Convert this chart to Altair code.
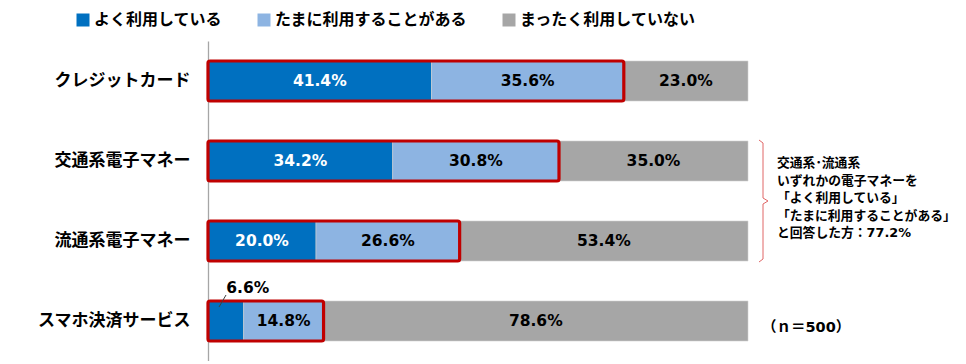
import altair as alt
import pandas as pd

categories = ["クレジットカード", "交通系電子マネー", "流通系電子マネー", "スマホ決済サービス"]
series = ["よく利用している", "たまに利用することがある", "まったく利用していない"]
often = [41.4, 34.2, 20.0, 6.6]
sometimes = [35.6, 30.8, 26.6, 14.8]
never = [23.0, 35.0, 53.4, 78.6]
colors = ["#0070c0", "#8db4e2", "#a6a6a6"]
text_colors = ["#ffffff", "#000000", "#000000"]
note_lines = ["交通系･流通系", "いずれかの電子マネーを", "「よく利用している」", "「たまに利用することがある」", "と回答した方：77.2%"]
n_note = "（ｎ＝500）"

FONT = "DejaVu Sans, Noto Sans CJK JP"
JP = "Noto Sans CJK JP"

rows = []
for ci, cat in enumerate(categories):
    start = 0.0
    for si, (s, vals) in enumerate(zip(series, [often, sometimes, never])):
        v = vals[ci]
        rows.append({
            "category": cat, "series": s, "order": si, "value": v,
            "start": start, "end": start + v, "mid": start + v / 2,
            "label": f"{v:.1f}%", "tcolor": text_colors[si],
            "inside": v >= 10,
        })
        start += v
df = pd.DataFrame(rows)

box_df = pd.DataFrame({
    "category": categories,
    "zero": [0.0] * len(categories),
    "end": [a + b for a, b in zip(often, sometimes)],
})

small = df[~df["inside"]].copy()

yenc = alt.Y("category:N", sort=categories, title=None,
             scale=alt.Scale(paddingInner=0.5, paddingOuter=0.25),
             axis=alt.Axis(labelFont=JP, labelFontSize=17, labelFontWeight="bold",
                           labelColor="#000000", labelPadding=18, ticks=False, grid=False,
                           domainColor="#a6a6a6", domainWidth=1.3, labelLimit=300))
xscale = alt.Scale(domain=[0, 100], nice=False)

bars = alt.Chart(df).mark_bar(stroke="#d0d0d0", strokeWidth=0.6).encode(
    y=yenc,
    x=alt.X("start:Q", scale=xscale, axis=None),
    x2="end:Q",
    color=alt.Color("series:N", sort=series,
                    scale=alt.Scale(domain=series, range=colors),
                    legend=alt.Legend(title=None, orient="none", direction="horizontal",
                                      legendX=-133, legendY=-29,
                                      symbolType="square", symbolSize=169,
                                      symbolStrokeWidth=0, symbolOpacity=1,
                                      labelFont=JP, labelFontSize=16, labelFontWeight="bold",
                                      labelColor="#000000", labelLimit=400, labelOffset=3,
                                      columnPadding=33)),
)

boxes = alt.Chart(box_df).mark_bar(fill=None, fillOpacity=0, stroke="#c00000",
                                   strokeWidth=3.2, cornerRadius=2).encode(
    y=yenc,
    x=alt.X("zero:Q", scale=xscale, axis=None),
    x2="end:Q",
)

labels = alt.Chart(df).transform_filter("datum.inside").mark_text(
    font=FONT, fontSize=15.5, fontWeight="bold", baseline="middle", align="center"
).encode(
    y=yenc,
    x=alt.X("mid:Q", scale=xscale, axis=None),
    text="label:N",
    color=alt.Color("tcolor:N", scale=None),
)

small_label = alt.Chart(small).mark_text(
    font=FONT, fontSize=15.5, fontWeight="bold", baseline="middle", align="center",
    dx=22, dy=-33, color="#000000"
).encode(
    y=yenc,
    x=alt.X("mid:Q", scale=xscale, axis=None),
    text="label:N",
)

# leader line for the small label
lead_df = pd.DataFrame({"px": [219 - 208, 226 - 208], "py": [307 - 41, 295 - 41]})
leader = alt.Chart(lead_df).mark_line(color="#404040", strokeWidth=1).encode(
    x=alt.X("px:Q", scale=None, axis=None), y=alt.Y("py:Q", scale=None, axis=None)
)

br_df = pd.DataFrame({
    "px": [759, 763, 763, 768, 763, 763, 759],
    "py": [140, 143, 198, 201, 204, 259, 262],
})
br_df["px"] = br_df["px"] - 208
br_df["py"] = br_df["py"] - 41
br_df["i"] = range(len(br_df))
bracket = alt.Chart(br_df).mark_line(color="#e06666", strokeWidth=1).encode(
    x=alt.X("px:Q", scale=None, axis=None), y=alt.Y("py:Q", scale=None, axis=None), order="i:Q"
)

note = alt.Chart(pd.DataFrame({"a": [0]})).mark_text(
    text=note_lines, font=FONT, fontSize=12.8, fontWeight="bold", align="left",
    baseline="middle", lineHeight=17.6, color="#000000"
).encode(x=alt.value(777 - 208), y=alt.value(163 - 41))

nnote = alt.Chart(pd.DataFrame({"a": [0]})).mark_text(
    text=n_note, font=FONT, fontSize=14.5, fontWeight="bold", align="left",
    baseline="middle", color="#000000"
).encode(x=alt.value(762 - 208), y=alt.value(328 - 41))

chart = alt.layer(bars, boxes, labels, small_label, leader, bracket, note, nnote).properties(
    width=540, height=320,
    autosize=alt.AutoSizeParams(type="none"),
    padding={"left": 200, "top": 33, "right": 210, "bottom": 0},
).configure(background="#ffffff").configure_view(stroke=None)

chart.save("out.html", embed_options={"renderer": "svg", "actions": False})
